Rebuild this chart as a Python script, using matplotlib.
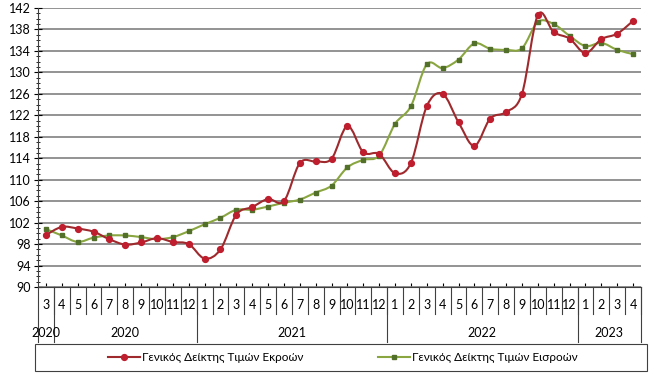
import numpy as np
import matplotlib.pyplot as plt
from matplotlib.path import Path
from matplotlib.patches import PathPatch, Rectangle
from matplotlib.lines import Line2D
from matplotlib.transforms import blended_transform_factory

plt.rcParams['font.family'] = ['Lato', 'DejaVu Sans']

## data: months 2020-3 .. 2023-4
months = [3, 4, 5, 6, 7, 8, 9, 10, 11, 12,
          1, 2, 3, 4, 5, 6, 7, 8, 9, 10, 11, 12,
          1, 2, 3, 4, 5, 6, 7, 8, 9, 10, 11, 12,
          1, 2, 3, 4]
year_labels = ['2020', '2020', '2021', '2022', '2023']
year_sizes = [1, 9, 12, 12, 4]

output_idx = [99.7, 101.2, 100.9, 100.3, 98.9, 97.9, 98.3, 99.1, 98.4, 98.0,
              95.3, 97.0, 103.5, 104.9, 106.4, 106.0, 113.1, 113.4, 113.9, 120.0, 115.1, 114.8,
              111.2, 113.1, 123.7, 126.0, 120.7, 116.3, 121.4, 122.6, 126.0, 140.7, 137.5, 136.3,
              133.6, 136.2, 137.2, 139.6]
input_idx = [100.8, 99.6, 98.4, 99.2, 99.6, 99.6, 99.3, 98.9, 99.3, 100.4,
             101.7, 102.9, 104.4, 104.4, 105.0, 105.7, 106.3, 107.6, 108.9, 112.3, 113.7, 114.5,
             120.4, 123.7, 131.5, 130.8, 132.4, 135.4, 134.4, 134.2, 134.5, 139.4, 139.0, 136.8,
             134.9, 135.5, 134.2, 133.4]

label_out = 'Γενικός Δείκτης Τιμών Εκροών'
label_in = 'Γενικός Δείκτης Τιμών Εισροών'

red_line, red_mark = '#9E2A2D', '#BE1E2D'
green_line, green_mark = '#8AA640', '#53702A'


def smooth_path(x, y):
    # excel-like smoothed line: cubic bezier through the points
    pts = np.column_stack([x, y])
    n = len(pts)
    verts = [pts[0]]
    codes = [Path.MOVETO]
    for i in range(n - 1):
        p0 = pts[i - 1] if i > 0 else pts[i]
        p1 = pts[i]
        p2 = pts[i + 1]
        p3 = pts[i + 2] if i + 2 < n else pts[i + 1]
        c1 = p1 + (p2 - p0) / 6
        c2 = p2 - (p3 - p1) / 6
        verts += [c1, c2, p2]
        codes += [Path.CURVE4] * 3
    return Path(verts, codes)


fig = plt.figure(figsize=(6.6, 3.8), dpi=100)
ax = fig.add_axes([38 / 660, 1 - 287 / 380, 603 / 660, 279 / 380])

x = np.arange(len(months))
ax.add_patch(PathPatch(smooth_path(x, input_idx), fill=False, color=green_line, lw=1.5, zorder=3))
ax.plot(x, input_idx, ls='none', marker='s', ms=3.3, color=green_mark, zorder=4)
ax.add_patch(PathPatch(smooth_path(x, output_idx), fill=False, color=red_line, lw=1.5, zorder=5))
ax.plot(x, output_idx, ls='none', marker='o', ms=4.2, color=red_mark, zorder=6)

ax.set_xlim(-0.5, len(months) - 0.5)
ax.set_ylim(90, 142)
ax.set_yticks(np.arange(90, 143, 4))
ax.set_yticks(np.arange(90, 143, 1), minor=True)
ax.yaxis.grid(True, color='#808080', lw=1.2)
ax.set_axisbelow(True)
ax.tick_params(axis='y', which='major', direction='inout', length=6, labelsize=9, pad=2)
ax.tick_params(axis='y', which='minor', direction='inout', length=3)
ax.set_xticks(x)
ax.set_xticklabels([])
ax.tick_params(axis='x', direction='in', length=3)
for s in ['top', 'right']:
    ax.spines[s].set_visible(False)
ax.spines['left'].set_color('#404040')
ax.spines['bottom'].set_color('#404040')

## multi level category axis
tr = blended_transform_factory(ax.transData, ax.transAxes)
for i, m in enumerate(months):
    ax.text(i, -0.063, str(m), transform=tr, ha='center', va='center', fontsize=9)
    ax.plot([i + 0.5, i + 0.5], [0, -0.097], transform=tr, color='#404040', lw=0.8, clip_on=False)
start = 0
ax.plot([-0.5, -0.5], [0, -0.197], transform=tr, color='#404040', lw=0.8, clip_on=False)
for lab, n in zip(year_labels, year_sizes):
    ax.text(start + (n - 1) / 2, -0.165, lab, transform=tr, ha='center', va='center', fontsize=9)
    end = start + n - 0.5
    ax.plot([end, end], [0, -0.197], transform=tr, color='#404040', lw=0.8, clip_on=False)
    start += n

## legend
fig.patches.append(Rectangle((35 / 660, 1 - 371 / 380), 612 / 660, 27 / 380,
                             transform=fig.transFigure, fill=False, ec='#404040', lw=0.8))
handles = [Line2D([], [], color=red_line, lw=1.5, marker='o', ms=4.2, mfc=red_mark, mec=red_mark),
           Line2D([], [], color=green_line, lw=1.5, marker='s', ms=3.3, mfc=green_mark, mec=green_mark)]
fig.legend(handles, [label_out, label_in], loc='center', ncol=2, frameon=False,
           bbox_to_anchor=(343 / 660, 1 - 357.5 / 380), fontsize=8.5,
           handlelength=2.7, handletextpad=0.2, columnspacing=6.3)

fig.savefig('out.png', dpi=100)
